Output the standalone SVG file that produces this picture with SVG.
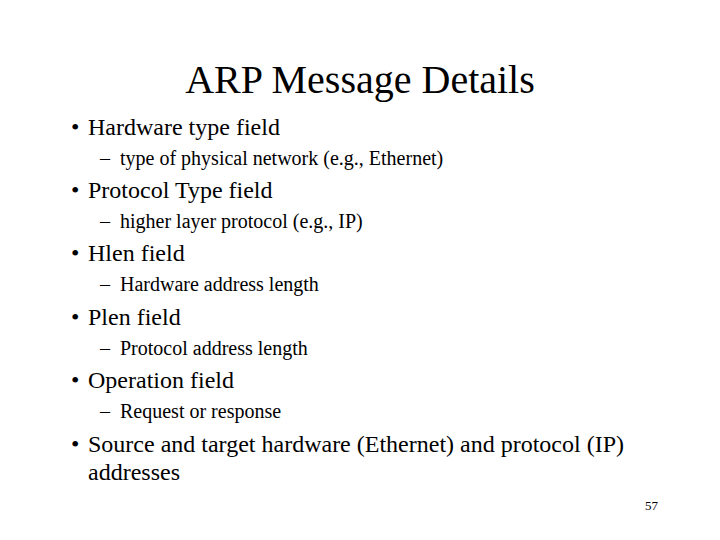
<svg xmlns="http://www.w3.org/2000/svg" width="720" height="540" viewBox="0 0 720 540">
<style>
text{font-family:"Liberation Serif","Times New Roman",serif;fill:#000}
.t{font-size:40px}
.b{font-size:24px}
.s{font-size:20px}
.n{font-size:13px}
</style>
<rect width="720" height="540" fill="#fff"/>
<text class="t" x="360" y="93" text-anchor="middle">ARP Message Details</text>
<g>
<text class="b" x="71" y="135">•</text><text class="b" x="88" y="135">Hardware type field</text>
<text class="b" x="71" y="198">•</text><text class="b" x="88" y="198">Protocol Type field</text>
<text class="b" x="71" y="261">•</text><text class="b" x="88" y="261">Hlen field</text>
<text class="b" x="71" y="325">•</text><text class="b" x="88" y="325">Plen field</text>
<text class="b" x="71" y="388">•</text><text class="b" x="88" y="388">Operation field</text>
<text class="b" x="71" y="452">•</text><text class="b" x="88" y="452">Source and target hardware (Ethernet) and protocol (IP)</text>
<text class="b" x="88" y="480">addresses</text>
</g>
<g>
<text class="s" x="100" y="165">–</text><text class="s" x="120" y="165">type of physical network (e.g., Ethernet)</text>
<text class="s" x="100" y="228">–</text><text class="s" x="120" y="228">higher layer protocol (e.g., IP)</text>
<text class="s" x="100" y="291">–</text><text class="s" x="120" y="291">Hardware address length</text>
<text class="s" x="100" y="355">–</text><text class="s" x="120" y="355">Protocol address length</text>
<text class="s" x="100" y="418">–</text><text class="s" x="120" y="418">Request or response</text>
</g>
<text class="n" x="645" y="510">57</text>
</svg>
